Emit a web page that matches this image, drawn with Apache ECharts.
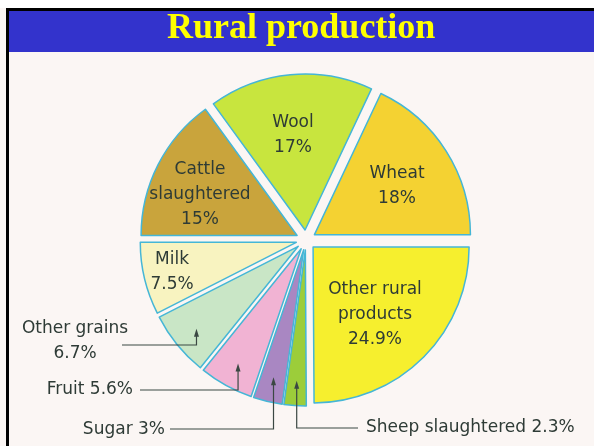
<!DOCTYPE html>
<html>
<head>
<meta charset="utf-8">
<title>Rural production</title>
<script src="https://cdn.jsdelivr.net/npm/echarts@6/dist/echarts.min.js"></script>
<style>
    html, body { margin: 0; padding: 0; background: #ffffff; }
    #chart { width: 594px; height: 446px; }
</style>
</head>
<body>
<div id="chart"></div>
<script>
// slices, clockwise from 3 o'clock
var categories = ['Other rural products', 'Sheep slaughtered', 'Sugar', 'Fruit', 'Other grains', 'Milk', 'Cattle slaughtered', 'Wool', 'Wheat'];
var shares = [24.9, 2.3, 3, 5.6, 6.7, 7.5, 15, 17, 18];
// how the name is written in the label, and what sits between name and value
var labelNames = ['Other rural\nproducts', 'Sheep slaughtered', 'Sugar', 'Fruit', 'Other grains', 'Milk', 'Cattle\nslaughtered', 'Wool', 'Wheat'];
var labelSep = ['\n', ' ', ' ', ' ', '\n', '\n', '\n', '\n', '\n'];
var sliceColors = ['#f6ef2e', '#9ccd3a', '#a987c2', '#f1b3d3', '#c9e6c6', '#f8f3c0', '#c9a43c', '#c8e53e', '#f4d232'];

// labels drawn on the slice
var insidePos = {
    'Other rural products': [375, 315],
    'Milk': [172, 272],
    'Cattle slaughtered': [200, 195],
    'Wool': [293, 135],
    'Wheat': [397, 186]
};
// labels drawn outside with a leader line
var callouts = {
    'Other grains': {x: 75, y: 341, align: 'center', lineY: 345, endX: 122},
    'Fruit': {x: 133, y: 390, align: 'right', lineY: 390, endX: 140},
    'Sugar': {x: 165, y: 430, align: 'right', lineY: 429, endX: 170},
    'Sheep slaughtered': {x: 366, y: 428, align: 'left', lineY: 428, endX: 358}
};

var CX = 306, CY = 240, R = 156, OFFSET = 10;
var LINE_COLOR = '#3b4843';

var chart = echarts.init(document.getElementById('chart'));

// 每块扇形单独一个系列, 圆心沿中线方向外移 (爆炸效果)
var total = 0;
for (var k = 0; k < shares.length; k++) total += shares[k];

function labelLayout(p) {
    var name = categories[p.dataIndex];
    if (insidePos[name]) {
        return {x: insidePos[name][0], y: insidePos[name][1], align: 'center', verticalAlign: 'middle'};
    }
    var c = callouts[name];
    return {x: c.x, y: c.y, align: c.align, verticalAlign: 'middle'};
}

var seriesList = [];
var cum = 0;
for (var i = 0; i < categories.length; i++) {
    var mid = (cum + shares[i] / 2) / total * Math.PI * 2;
    cum += shares[i];
    var inside = !!insidePos[categories[i]];
    var pieData = [];
    for (var j = 0; j < categories.length; j++) {
        var on = j === i;
        pieData.push({
            name: categories[j],
            value: shares[j],
            itemStyle: on ? {color: sliceColors[j], borderColor: '#45b6d6', borderWidth: 1.5}
                          : {color: 'rgba(0,0,0,0)', borderWidth: 0},
            label: {show: on, position: inside ? 'inside' : 'outside'},
            labelLine: {show: false}
        });
    }
    seriesList.push({
        type: 'pie',
        name: categories[i],
        center: [CX + Math.cos(mid) * OFFSET, CY + Math.sin(mid) * OFFSET],
        radius: R,
        startAngle: 0,
        clockwise: true,
        silent: true,
        avoidLabelOverlap: false,
        emphasis: {disabled: true},
        label: {
            fontFamily: 'DejaVu Sans',
            fontSize: 17,
            lineHeight: 25,
            color: '#2e3b36',
            align: 'center',
            formatter: function (p) {
                return labelNames[p.dataIndex] + labelSep[p.dataIndex] + p.value + '%';
            }
        },
        labelLayout: labelLayout,
        data: pieData
    });
}

var frame = [
    {type: 'rect', z: -10, shape: {x: 0, y: 0, width: 594, height: 8}, style: {fill: '#ffffff'}},
    {type: 'rect', z: -10, shape: {x: 6, y: 8, width: 588, height: 3}, style: {fill: '#000000'}},
    {type: 'rect', z: -10, shape: {x: 6, y: 8, width: 3, height: 438}, style: {fill: '#000000'}},
    {type: 'rect', z: -10, shape: {x: 9, y: 11, width: 585, height: 41}, style: {fill: '#3333cc'}}
];

var option = {
    backgroundColor: '#fbf6f4',
    animation: false,
    title: {
        text: 'Rural production',
        left: 167,
        top: 11,
        padding: 0,
        z: 20,
        textStyle: {
            fontFamily: 'Liberation Serif',
            fontWeight: 'bold',
            fontSize: 36,
            color: '#ffff00'
        }
    },
    graphic: frame,
    series: seriesList
};
chart.setOption(option);

// 引线: 从扇形内部的箭头向下, 再横向连到文字
var leaders = [];
for (var name in callouts) {
    var idx = categories.indexOf(name);
    var c = callouts[name];
    var lay = chart.getModel().getSeriesByIndex(idx).getData().getItemLayout(idx);
    var a = (lay.startAngle + lay.endAngle) / 2;
    var ax = lay.cx + Math.cos(a) * lay.r * 0.84;
    var ay = lay.cy + Math.sin(a) * lay.r * 0.84;
    leaders.push({
        type: 'polyline', z: 30,
        shape: {points: [[ax, ay + 6], [ax, c.lineY], [c.endX, c.lineY]]},
        style: {stroke: LINE_COLOR, lineWidth: 1.2, fill: null}
    });
    leaders.push({
        type: 'polygon', z: 30,
        shape: {points: [[ax, ay], [ax - 2.5, ay + 8], [ax + 2.5, ay + 8]]},
        style: {fill: LINE_COLOR}
    });
}
chart.setOption({graphic: frame.concat(leaders)});
</script>
</body>
</html>
